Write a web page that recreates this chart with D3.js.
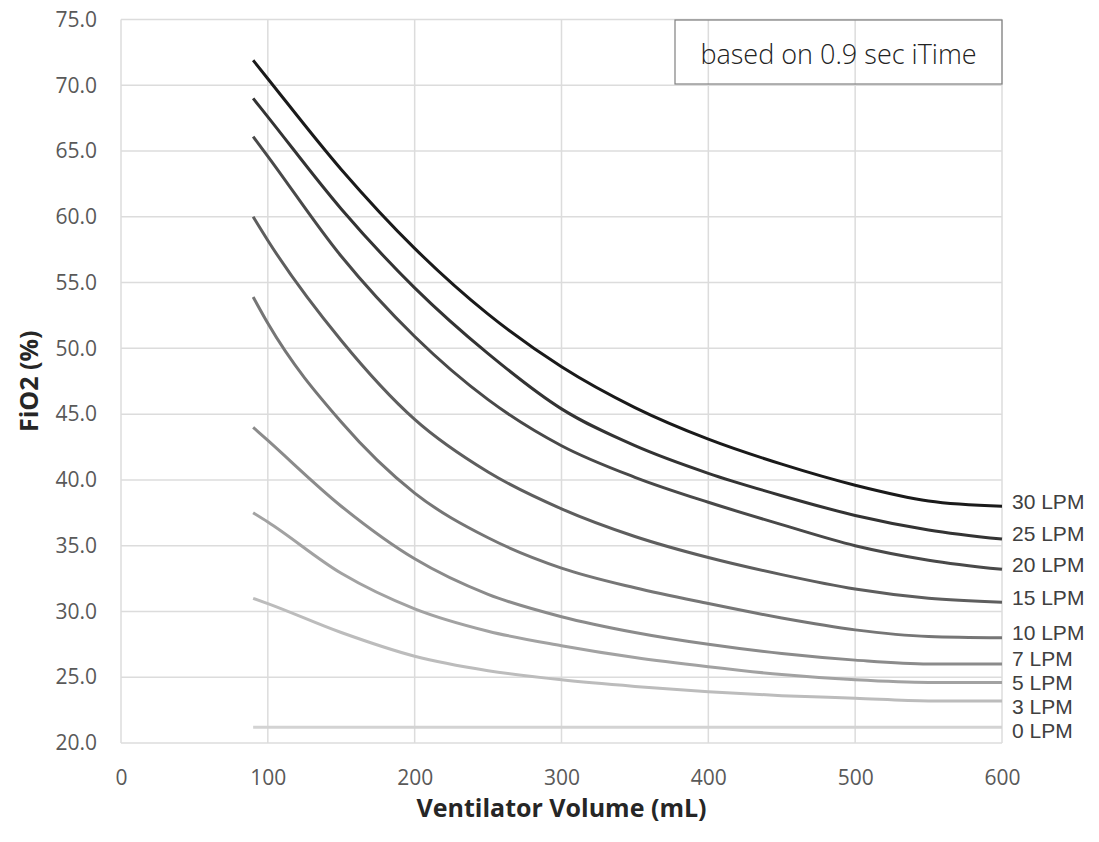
<!DOCTYPE html>
<html>
<head>
<meta charset="utf-8">
<script src="https://cdn.jsdelivr.net/npm/d3@7"></script>
<style>
  body { margin: 0; background: #fff; }
  svg { display: block; }
  .tick text { font-family: "Open Sans", sans-serif; fill: #595959; }
</style>
</head>
<body>
<svg id="chart"></svg>
<script>
// Data
const volumes = [90, 100, 150, 200, 250, 300, 350, 400, 450, 500, 550, 600];
const seriesNames = ["30 LPM", "25 LPM", "20 LPM", "15 LPM", "10 LPM", "7 LPM", "5 LPM", "3 LPM", "0 LPM"];
const lpm30 = [71.9, 70.5, 63.6, 57.6, 52.6, 48.6, 45.5, 43.1, 41.2, 39.6, 38.4, 38.0];
const lpm25 = [69.0, 67.6, 60.6, 54.6, 49.6, 45.4, 42.6, 40.5, 38.8, 37.3, 36.2, 35.5];
const lpm20 = [66.1, 64.6, 57.0, 50.9, 46.1, 42.6, 40.2, 38.3, 36.6, 35.0, 33.9, 33.2];
const lpm15 = [60.0, 58.2, 50.6, 44.6, 40.6, 37.8, 35.7, 34.1, 32.8, 31.7, 31.0, 30.7];
const lpm10 = [53.9, 51.9, 44.4, 39.0, 35.6, 33.3, 31.8, 30.6, 29.5, 28.6, 28.1, 28.0];
const lpm7 = [44.0, 43.0, 38.0, 34.0, 31.3, 29.6, 28.4, 27.5, 26.8, 26.3, 26.0, 26.0];
const lpm5 = [37.5, 36.8, 32.9, 30.2, 28.5, 27.4, 26.5, 25.8, 25.2, 24.8, 24.6, 24.6];
const lpm3 = [31.0, 30.6, 28.4, 26.6, 25.5, 24.8, 24.3, 23.9, 23.6, 23.4, 23.2, 23.2];
const lpm0 = [21.2, 21.2, 21.2, 21.2, 21.2, 21.2, 21.2, 21.2, 21.2, 21.2, 21.2, 21.2];
const xTicks = [0, 100, 200, 300, 400, 500, 600];
const yTicks = [20, 25, 30, 35, 40, 45, 50, 55, 60, 65, 70, 75];
const note = "based on 0.9 sec iTime";

const lineColors = ["#1a1a1a", "#333333", "#494949", "#5e5e5e", "#767676", "#8b8b8b", "#a2a2a2", "#bcbcbc", "#d3d3d3"];

const width = 1099;
const height = 842;
const margin = {top: 19.5, right: 97, bottom: 99, left: 121};

const svg = d3.select("#chart")
    .attr("width", width)
    .attr("height", height);

const x = d3.scaleLinear()
    .domain([0, 600])
    .range([margin.left, width - margin.right]);

const y = d3.scaleLinear()
    .domain([20, 75])
    .range([height - margin.bottom, margin.top]);

// gridlines
svg.append("g")
    .selectAll("line")
    .data(yTicks)
    .enter()
    .append("line")
    .attr("x1", x(0))
    .attr("x2", x(600))
    .attr("y1", d => y(d))
    .attr("y2", d => y(d))
    .attr("stroke", "#dcdcdc")
    .attr("stroke-width", 1.5);

svg.append("g")
    .selectAll("line")
    .data(xTicks)
    .enter()
    .append("line")
    .attr("x1", d => x(d))
    .attr("x2", d => x(d))
    .attr("y1", y(20))
    .attr("y2", y(75))
    .attr("stroke", "#dcdcdc")
    .attr("stroke-width", 1.5);

// axes (labels only)
const xAxis = svg.append("g")
    .attr("transform", `translate(0,${y(20)})`)
    .call(d3.axisBottom(x).tickValues(xTicks).tickSize(0).tickPadding(27));
xAxis.select(".domain").remove();
xAxis.selectAll("text").style("font-size", "21px");

const yAxis = svg.append("g")
    .attr("transform", `translate(${x(0)},0)`)
    .call(d3.axisLeft(y).tickValues(yTicks).tickFormat(d3.format(".1f")).tickSize(0).tickPadding(24));
yAxis.select(".domain").remove();
yAxis.selectAll("text").style("font-size", "21px");

// axis titles
svg.append("text")
    .attr("x", (x(0) + x(600)) / 2)
    .attr("y", 817)
    .attr("text-anchor", "middle")
    .style("font-family", "Open Sans, sans-serif")
    .style("font-weight", "bold")
    .style("font-size", "25px")
    .attr("fill", "#262626")
    .text("Ventilator Volume (mL)");

svg.append("text")
    .attr("transform", `translate(38,${(y(20) + y(75)) / 2}) rotate(-90)`)
    .attr("text-anchor", "middle")
    .style("font-family", "Open Sans, sans-serif")
    .style("font-weight", "bold")
    .style("font-size", "25px")
    .attr("fill", "#262626")
    .text("FiO2 (%)");

// series
const allSeries = [lpm30, lpm25, lpm20, lpm15, lpm10, lpm7, lpm5, lpm3, lpm0];
const series = seriesNames.map((name, i) => ({
    name: name,
    color: lineColors[i],
    values: volumes.map((v, j) => ({x: v, y: allSeries[i][j]}))
}));

const line = d3.line()
    .x(d => x(d.x))
    .y(d => y(d.y))
    .curve(d3.curveMonotoneX);

svg.append("g")
    .selectAll("path")
    .data(series.slice().reverse())
    .enter()
    .append("path")
    .attr("d", d => line(d.values))
    .attr("fill", "none")
    .attr("stroke", d => d.color)
    .attr("stroke-width", 3);

// end labels, pushed down so they don't collide
const labelPos = series.map(s => y(s.values[s.values.length - 1].y) - 5);
for (let i = 1; i < labelPos.length; i++) {
    labelPos[i] = Math.max(labelPos[i], labelPos[i - 1] + 24);
}

svg.append("g")
    .selectAll("text")
    .data(series)
    .enter()
    .append("text")
    .attr("x", x(600) + 10)
    .attr("y", (d, i) => labelPos[i])
    .attr("dy", "0.35em")
    .style("font-family", "Liberation Sans, Arial, sans-serif")
    .style("font-size", "21px")
    .attr("fill", "#404040")
    .text(d => d.name);

// note box
svg.append("rect")
    .attr("x", 675)
    .attr("y", 20)
    .attr("width", x(600) - 675)
    .attr("height", 64)
    .attr("fill", "none")
    .attr("stroke", "#808080")
    .attr("stroke-width", 1.2);

svg.append("text")
    .attr("x", (675 + x(600)) / 2)
    .attr("y", 55)
    .attr("dy", "0.35em")
    .attr("text-anchor", "middle")
    .style("font-family", "Open Sans, sans-serif")
    .style("font-weight", 300)
    .style("font-size", "27px")
    .attr("fill", "#222")
    .text(note);
</script>
</body>
</html>
